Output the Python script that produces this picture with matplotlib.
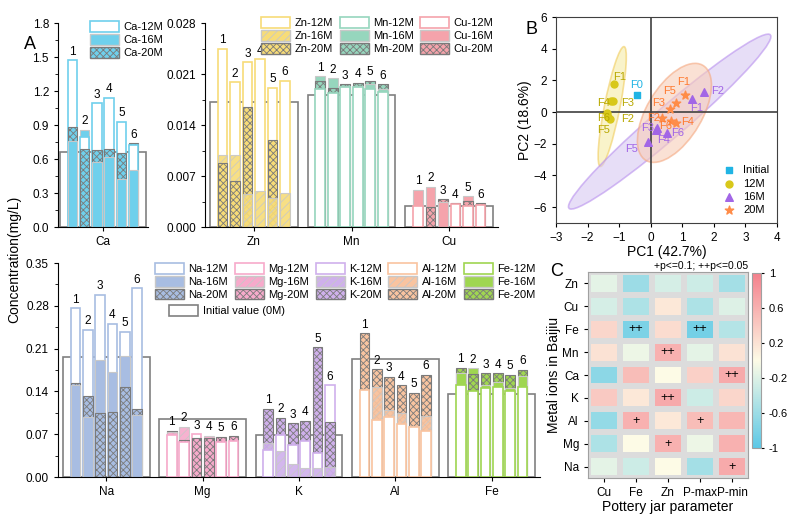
import numpy as np
import matplotlib
matplotlib.use('Agg')
import matplotlib.pyplot as plt
from matplotlib.patches import Patch, Ellipse
from matplotlib.ticker import AutoMinorLocator, FormatStrFormatter
from matplotlib.colors import LinearSegmentedColormap

plt.rcParams['font.family'] = ['Liberation Sans', 'DejaVu Sans']
plt.rcParams['hatch.linewidth'] = 0.6

# ---- panel A data: [12M, 16M, 20M] for samples 1..6
ca = [[1.47, 0.76, 0.88], [0.79, 0.86, 0.69], [1.09, 0.57, 0.68],
      [1.14, 0.62, 0.69], [0.93, 0.42, 0.65], [0.72, 0.50, 0.74]]
zn = [[0.0245, 0.0099, 0.0088], [0.0199, 0.0099, 0.0063], [0.0226, 0.0045, 0.0165],
      [0.0230, 0.0050, 0.0], [0.0191, 0.0040, 0.0120], [0.0201, 0.0047, 0.0]]
mn = [[0.0189, 0.0207, 0.0201], [0.0184, 0.0204, 0.0191], [0.0192, 0.0194, 0.0196],
      [0.0192, 0.0194, 0.0198], [0.0190, 0.0196, 0.0201], [0.0186, 0.0190, 0.0196]]
cu = [[0.0029, 0.0051, 0.0], [0.0, 0.0055, 0.0028], [0.0, 0.0034, 0.0038],
      [0.0031, 0.0, 0.0033], [0.0029, 0.0042, 0.0036], [0.0030, 0.0, 0.0033]]
na = [[0.276, 0.150, 0.153], [0.241, 0.098, 0.132], [0.298, 0.191, 0.105],
      [0.251, 0.172, 0.107], [0.238, 0.198, 0.148], [0.309, 0.102, 0.112]]
mg = [[0.068, 0.073, 0.076], [0.058, 0.082, 0.061], [0.070, 0.0, 0.063],
      [0.0, 0.067, 0.063], [0.058, 0.0, 0.066], [0.059, 0.0, 0.067]]
k = [[0.045, 0.056, 0.112], [0.069, 0.042, 0.097], [0.053, 0.021, 0.088],
     [0.059, 0.014, 0.092], [0.040, 0.014, 0.212], [0.150, 0.016, 0.090]]
al = [[0.142, 0.0, 0.235], [0.093, 0.147, 0.176], [0.098, 0.110, 0.164],
      [0.087, 0.105, 0.150], [0.081, 0.083, 0.138], [0.076, 0.099, 0.167]]
fe = [[0.151, 0.170, 0.179], [0.140, 0.178, 0.168], [0.146, 0.151, 0.170],
      [0.147, 0.155, 0.170], [0.140, 0.146, 0.167], [0.148, 0.165, 0.175]]
initial = {'Ca': 0.66, 'Zn': 0.0171, 'Mn': 0.0181, 'Cu': 0.0029,
           'Na': 0.197, 'Mg': 0.095, 'K': 0.069, 'Al': 0.193, 'Fe': 0.136}
colors = {'Ca': '#6fd0ec', 'Zn': '#f7dc78', 'Mn': '#96d6bd', 'Cu': '#f5a3ab',
          'Na': '#a8bde2', 'Mg': '#f7aacb', 'K': '#cfb0ec', 'Al': '#f9c4a0', 'Fe': '#9fd651'}
striped16 = ['Zn', 'Mg', 'K', 'Al']

# ---- panel B data
pc_init = [(-0.45, 1.1)]
pc_12 = [(-1.15, 1.75), (-1.3, -0.45), (-1.2, 0.72), (-1.25, 0.68), (-1.35, -0.3), (-1.4, -0.05)]
pc_16 = [(1.3, 0.8), (1.7, 1.25), (0.18, -1.1), (0.2, -1.0), (-0.1, -1.9), (0.5, -1.3)]
pc_20 = [(1.1, 1.1), (0.35, -0.4), (0.6, 0.2), (0.8, -0.7), (0.8, 0.55), (0.65, -0.55)]
lab_12 = [(-1.2, 2.2), (-0.95, -0.45), (-0.95, 0.6), (-1.7, 0.6), (-1.7, -1.1), (-1.7, -0.4)]
lab_16 = [(1.25, 0.25), (1.9, 1.3), (-0.3, -1.0), (0.2, -1.75), (-0.8, -2.3), (0.65, -1.3)]
lab_20 = [(0.85, 1.9), (-0.1, -0.4), (0.05, 0.6), (0.95, -0.6), (0.4, 1.3), (0.25, -0.9)]

# ---- panel C data
rows = ['Zn', 'Cu', 'Fe', 'Mn', 'Ca', 'K', 'Al', 'Mg', 'Na']
cols = ['Cu', 'Fe', 'Zn', 'P-max', 'P-min']
corr = np.array([
    [-0.15, -0.6, -0.25, -0.3, -0.55],
    [-0.25, -0.5, 0.15, -0.5, -0.2],
    [0.3, -0.8, 0.25, -0.85, -0.45],
    [0.2, -0.1, 0.6, -0.15, 0.2],
    [-0.7, 0.5, 0.0, 0.35, 0.65],
    [0.4, 0.15, 0.65, -0.3, 0.3],
    [-0.65, 0.6, 0.15, 0.5, 0.55],
    [-0.5, 0.0, 0.6, -0.1, 0.6],
    [-0.15, -0.3, 0.0, -0.55, 0.65]])
signif = [['', '', '', '', ''], ['', '', '', '', ''], ['', '++', '', '++', ''],
          ['', '', '++', '', ''], ['', '', '', '', '++'], ['', '', '++', '', ''],
          ['', '+', '', '+', ''], ['', '', '+', '', ''], ['', '', '', '', '+']]

fig = plt.figure(figsize=(7.99, 5.19), dpi=100)

BW, PITCH = 0.1, 0.128


def style_ax(ax):
    for s in ['top', 'right']:
        ax.spines[s].set_visible(False)
    ax.tick_params(labelsize=8.5, length=3, direction='out')
    ax.yaxis.set_minor_locator(AutoMinorLocator(2))
    ax.tick_params(which='minor', length=2)


def draw_group(ax, x0, name, vals, ytop):
    c = colors[name]
    ax.bar(x0, initial[name], width=0.9, facecolor='white', edgecolor='#808080', lw=1.2, zorder=1)
    for i, v in enumerate(vals):
        x = x0 + (i - 2.5) * PITCH
        order = np.argsort(v)[::-1]
        for j in order:
            if v[j] <= 0:
                continue
            if j == 0:
                ax.bar(x, v[j], BW, facecolor='white', edgecolor=c, lw=1.2, zorder=2)
            elif j == 1:
                if name in striped16:
                    ax.bar(x, v[j], BW, facecolor=c, edgecolor='#c8c8c8', hatch='////', lw=0.8, zorder=2, alpha=0.9)
                else:
                    ax.bar(x, v[j], BW, facecolor=c, edgecolor='#c8c8c8', lw=0.8, zorder=2)
            else:
                ax.bar(x, v[j], BW, facecolor=c, edgecolor='#7a7a7a', hatch='xxxxx', lw=0.8, zorder=2)
        ax.text(x, max(v) + ytop * 0.012, str(i + 1), ha='center', va='bottom', fontsize=8.5)


def legend_handles(names):
    h = []
    for n in names:
        c = colors[n]
        h.append(Patch(facecolor='white', edgecolor=c, lw=1.2, label=f'{n}-12M'))
        h.append(Patch(facecolor=c, edgecolor='#c8c8c8', hatch='////' if n in striped16 else None, label=f'{n}-16M'))
        h.append(Patch(facecolor=c, edgecolor='#7a7a7a', hatch='xxxxx', label=f'{n}-20M'))
    return h

# Ca
ax1 = fig.add_axes([0.0726, 0.5626, 0.1126, 0.393])
draw_group(ax1, 0, 'Ca', ca, 1.8)
ax1.set_xlim(-0.47, 0.47)
ax1.set_ylim(0, 1.8)
ax1.set_yticks(np.arange(0, 1.81, 0.3))
ax1.yaxis.set_major_formatter(FormatStrFormatter('%.1f'))
ax1.set_xticks([0])
ax1.set_xticklabels(['Ca'])
style_ax(ax1)
ax1.legend(handles=legend_handles(['Ca']), loc='upper right', frameon=False, fontsize=8,
           handlelength=2.6, handleheight=1.1, borderaxespad=0.0, labelspacing=0.15, handletextpad=0.4,
           bbox_to_anchor=(1.22, 1.03))

# Zn Mn Cu
ax2 = fig.add_axes([0.2566, 0.5626, 0.3667, 0.393])
for g, (n, v) in enumerate([('Zn', zn), ('Mn', mn), ('Cu', cu)]):
    draw_group(ax2, g, n, v, 0.028)
ax2.set_xlim(-0.5, 2.5)
ax2.set_ylim(0, 0.028)
ax2.set_yticks(np.arange(0, 0.0281, 0.007))
ax2.yaxis.set_major_formatter(FormatStrFormatter('%.3f'))
ax2.set_xticks([0, 1, 2])
ax2.set_xticklabels(['Zn', 'Mn', 'Cu'])
style_ax(ax2)
ax2.legend(handles=legend_handles(['Zn', 'Mn', 'Cu']), ncol=3, loc='upper right', frameon=False, fontsize=8,
           handlelength=2.6, handleheight=1.1, borderaxespad=0.0, labelspacing=0.15, handletextpad=0.4,
           columnspacing=0.6, bbox_to_anchor=(1.0, 1.05))

# Na Mg K Al Fe
ax3 = fig.add_axes([0.0726, 0.0809, 0.603, 0.4123])
for g, (n, v) in enumerate([('Na', na), ('Mg', mg), ('K', k), ('Al', al), ('Fe', fe)]):
    draw_group(ax3, g, n, v, 0.35)
ax3.set_xlim(-0.5, 4.5)
ax3.set_ylim(0, 0.35)
ax3.set_yticks(np.arange(0, 0.351, 0.07))
ax3.yaxis.set_major_formatter(FormatStrFormatter('%.2f'))
ax3.set_xticks(range(5))
ax3.set_xticklabels(['Na', 'Mg', 'K', 'Al', 'Fe'])
style_ax(ax3)
leg = ax3.legend(handles=legend_handles(['Na', 'Mg', 'K', 'Al', 'Fe']), ncol=5, loc='upper right',
                 frameon=False, fontsize=8, handlelength=2.6, handleheight=1.1, borderaxespad=0.0,
                 labelspacing=0.15, handletextpad=0.4, columnspacing=0.6, bbox_to_anchor=(1.0, 1.02))
ax3.add_artist(leg)
ax3.legend(handles=[Patch(facecolor='white', edgecolor='#808080', lw=1.2, label='Initial value (0M)')],
           loc='upper left', bbox_to_anchor=(0.21, 0.85), frameon=False, fontsize=8,
           handlelength=2.6, handleheight=1.1, handletextpad=0.4)

fig.text(0.018, 0.5, 'Concentration(mg/L)', rotation=90, ha='center', va='center', fontsize=10)
fig.text(0.03, 0.905, 'A', fontsize=13)

# ---- panel B
axb = fig.add_axes([0.6959, 0.5703, 0.2766, 0.3969])
axb.add_patch(Ellipse((-1.22, 0.35), 7.6, 0.5, angle=84.4, facecolor='#f5eaa0', edgecolor='#f0c850',
                      alpha=0.55, lw=1.2, zorder=1))
axb.add_patch(Ellipse((0.6, -0.6), 12.7, 1.3, angle=60.2, facecolor='#d8c8f2', edgecolor='#b890ee',
                      alpha=0.6, lw=1.2, zorder=1))
axb.add_patch(Ellipse((0.75, -0.05), 6.4, 1.9, angle=77, facecolor='#f8cdb8', edgecolor='#f5a880',
                      alpha=0.6, lw=1.2, zorder=1))
axb.axhline(0, color='#404040', lw=1.2, zorder=2)
axb.axvline(0, color='#404040', lw=1.2, zorder=2)
axb.scatter(*zip(*pc_init), marker='s', s=22, color='#20b4e4', zorder=3, label='Initial')
axb.scatter(*zip(*pc_12), marker='o', s=25, color='#d8c81a', zorder=3, label='12M')
axb.scatter(*zip(*pc_16), marker='^', s=30, color='#a266e6', zorder=3, label='16M')
axb.scatter(*zip(*pc_20), marker='*', s=40, color='#ff8c48', zorder=3, label='20M')
axb.text(-0.65, 1.55, 'F0', color='#20b4e4', fontsize=8)
for lab, col in [(lab_12, '#b8a800'), (lab_16, '#a266e6'), (lab_20, '#ff7a30')]:
    for i, (x, y) in enumerate(lab):
        axb.text(x, y, f'F{i + 1}', color=col, fontsize=8, va='center')
axb.set_xlim(-3, 4)
axb.set_ylim(-7, 6)
axb.set_xticks(range(-3, 5))
axb.set_yticks(range(-6, 7, 2))
axb.tick_params(labelsize=8.5, length=3)
for s in axb.spines.values():
    s.set_color('#404040')
axb.set_xlabel('PC1 (42.7%)', fontsize=10, labelpad=1)
axb.set_ylabel('PC2 (18.6%)', fontsize=10, labelpad=1)
axb.legend(loc='lower right', frameon=False, fontsize=8, handletextpad=0.3, labelspacing=0.3,
           borderaxespad=0.3)
fig.text(0.658, 0.935, 'B', fontsize=13)

# ---- panel C
cmap = LinearSegmentedColormap.from_list('c', ['#5cc8e6', '#fdfbe6', '#f4808c'])
axc = fig.add_axes([0.7359, 0.079, 0.2003, 0.3969])
m = axc.pcolormesh(corr[::-1], cmap=cmap, vmin=-1, vmax=1, edgecolors='#dcdcdc', linewidth=3)
for r in range(len(rows)):
    for cidx in range(len(cols)):
        if signif[r][cidx]:
            axc.text(cidx + 0.5, len(rows) - r - 0.5, signif[r][cidx], ha='center', va='center', fontsize=9)
axc.set_xticks(np.arange(len(cols)) + 0.5)
axc.set_xticklabels(cols)
axc.set_yticks(np.arange(len(rows)) + 0.5)
axc.set_yticklabels(rows[::-1])
axc.tick_params(labelsize=8.5, length=3)
for s in axc.spines.values():
    s.set_color('#a0a0a0')
axc.set_xlabel('Pottery jar parameter', fontsize=10, labelpad=1)
axc.set_ylabel('Metal ions in Baijiu', fontsize=10, labelpad=1)
axc.set_title('+p<=0.1; ++p<=0.05', fontsize=7.5, loc='right', pad=2)
cax = fig.add_axes([0.9412, 0.1368, 0.0113, 0.337])
cb = fig.colorbar(m, cax=cax, ticks=[1, 0.6, 0.2, -0.2, -0.6, -1])
cb.ax.set_yticklabels(['1', '0.6', '0.2', '-0.2', '-0.6', '-1'])
cb.ax.tick_params(labelsize=8, length=2)
cb.outline.set_edgecolor('#a0a0a0')
fig.text(0.688, 0.468, 'C', fontsize=13)

fig.savefig('out.png', dpi=100)
